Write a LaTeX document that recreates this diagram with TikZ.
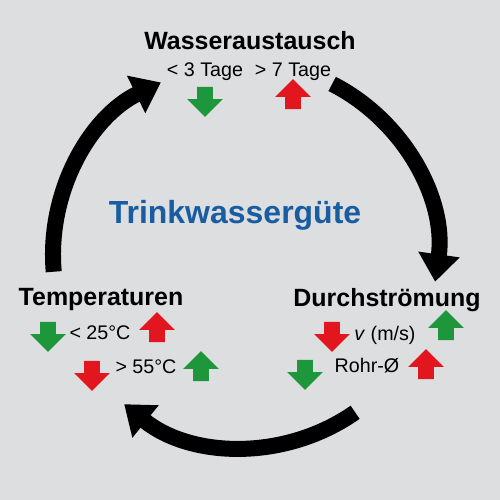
\documentclass[tikz,border=0pt]{standalone}
\usepackage{fontspec}
\setmainfont{Liberation Sans}
\usetikzlibrary{shapes.arrows,arrows.meta,calc}

\definecolor{bg}{RGB}{220,222,223}
\definecolor{okgreen}{RGB}{30,150,60}
\definecolor{badred}{RGB}{226,22,30}
\definecolor{titleblue}{RGB}{24,92,162}

\begin{document}
\begin{tikzpicture}[
  head/.style={font=\fontsize{14.2}{17}\selectfont\bfseries},
  small/.style={font=\fontsize{11.2}{13}\selectfont},
  blockarrow/.style={single arrow,draw=none,inner sep=0pt,inner ysep=0.15cm,
    minimum height=0.6cm,single arrow head extend=0.2cm},
  dnarrow/.style={blockarrow,rotate=-90,fill=#1},
  uparrow/.style={blockarrow,rotate=90,fill=#1},
  cyclearrow/.style={line width=0.32cm,-{Triangle[width=0.8cm,length=0.55cm]}}
]
\fill[bg] (0,0) rectangle (10,10);
\useasboundingbox (0,0) rectangle (10,10);

\node[font=\fontsize{18.2}{21}\selectfont\bfseries,text=titleblue] (guete) at (4.7,5.7) {Trinkwassergüte};

% Wasseraustausch
\node[head] (wasser) at (5.0,9.18) {Wasseraustausch};
\node[small] (tage3) at (4.1,8.56) {< 3 Tage};
\node[small] (tage7) at (5.86,8.56) {> 7 Tage};
\node[dnarrow=okgreen] (wdown) at (4.1,8.04) {};
\node[uparrow=badred] (wup) at (5.86,8.04) {};

% Temperaturen
\node[head] (temp) at (2.02,4.0) {Temperaturen};
\node[small] (t25) at (2.0,3.34) {< 25°C};
\node[dnarrow=okgreen] (tdown1) at (0.96,3.34) {};
\node[uparrow=badred] (tup1) at (3.14,3.38) {};
\node[small] (t55) at (2.92,2.66) {> 55°C};
\node[dnarrow=badred] (tdown2) at (1.84,2.56) {};
\node[uparrow=okgreen] (tup2) at (4.02,2.6) {};

% Durchstroemung
\node[head] (durch) at (7.74,4.0) {Durchströmung};
\node[small] (vms) at (7.7,3.3) {\textit{v} (m/s)};
\node[dnarrow=badred] (ddown1) at (6.64,3.34) {};
\node[uparrow=okgreen] (dup1) at (8.92,3.42) {};
\node[small] (rohr) at (7.34,2.68) {Rohr-Ø};
\node[dnarrow=okgreen] (ddown2) at (6.1,2.58) {};
\node[uparrow=badred] (dup2) at (8.52,2.64) {};

% Kreislauf
\coordinate (mid) at (4.9,4.9);
\coordinate (leftstart) at ($(mid)+(185:3.84)$);
\coordinate (rightstart) at ($(mid)+(63:3.84)$);
\coordinate (bottomstart) at ($(mid)+(-55:3.84)$);
\draw[cyclearrow] (leftstart) arc[start angle=185,end angle=116,radius=3.84];
\draw[cyclearrow] (rightstart) arc[start angle=63,end angle=-8,radius=3.84];
\draw[cyclearrow] (bottomstart) arc[start angle=-55,end angle=-129,radius=3.84];
\end{tikzpicture}
\end{document}
